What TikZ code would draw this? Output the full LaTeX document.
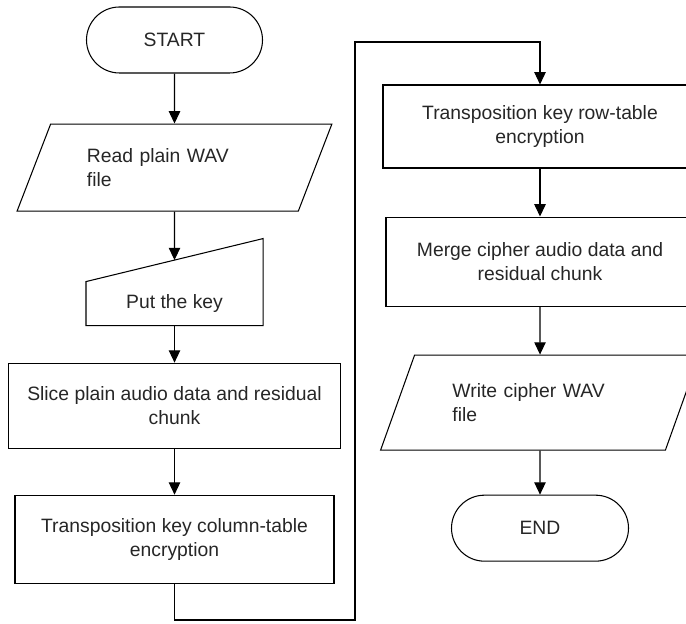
\documentclass[tikz,border=0pt]{standalone}
\usepackage{fontspec}
\setmainfont{Liberation Sans}
\usetikzlibrary{positioning, arrows.meta, shapes.geometric, calc}

\begin{document}
\begin{tikzpicture}[->,>={Triangle[length=7pt,width=6.5pt]},line width=0.6pt,
    node distance=0.95cm,font=\fontsize{11}{13.5}\selectfont,text=black!85]
  \tikzstyle{term}=[rectangle,draw,rounded corners=0.66cm,minimum width=3.52cm,minimum height=1.32cm]
  \tikzstyle{proc}=[rectangle,draw,align=center,minimum height=1.7cm]
  \tikzstyle{io}=[trapezium,draw,trapezium left angle=63,trapezium right angle=117,
    trapezium stretches=true,text width=3.5cm,align=left]
  \tikzstyle{manual}=[rectangle,minimum width=3.52cm,minimum height=0.86cm]
  \useasboundingbox (0,0) rectangle (13.72,12.48);
  \clip (0,0) rectangle (13.72,12.48);
  % left column
  \node[term] (start) at (3.49,11.68) {START};
  \node[io,minimum width=6.3cm,minimum height=1.74cm] (read) [below=1cm of start]
    {Read plain WAV\\file};
  \node[manual] (key) [below=1.4cm of read] {Put the key};
  \node[proc,minimum width=6.64cm] (slice) [below=0.74cm of key]
    {Slice plain audio data and residual\\chunk};
  \node[proc,minimum width=6.38cm,minimum height=1.76cm] (col) [below=0.92cm of slice]
    {Transposition key column-table\\encryption};
  \draw[-] (key.north west) -- ([yshift=0.86cm]key.north east)
    -- (key.south east) -- (key.south west) -- cycle;
  \coordinate (keytop) at ($(key.north west)!0.5!([yshift=0.86cm]key.north east)$);
  % right column
  \node[proc,minimum width=6.28cm,minimum height=1.66cm] (row) at (10.8,9.95)
    {Transposition key row-table\\encryption};
  \node[proc,minimum width=6.16cm,minimum height=1.78cm] (merge) [below=0.96cm of row]
    {Merge cipher audio data and\\residual chunk};
  \node[io,minimum width=6.38cm,minimum height=1.9cm] (write) [below=0.96cm of merge]
    {Write cipher WAV\\file};
  \node[term,minimum width=3.54cm] (end) [below=0.88cm of write] {END};
  % turn between the columns
  \coordinate (low) at (3.49,0.08);
  \coordinate (high) at (7.1,11.64);
  \path (start) edge (read)
        (read) edge (keytop)
        (key) edge (slice)
        (slice) edge (col)
        (row) edge (merge)
        (merge) edge (write)
        (write) edge (end);
  \draw (col) -- (low) -| (high) -| (row);
\end{tikzpicture}
\end{document}
